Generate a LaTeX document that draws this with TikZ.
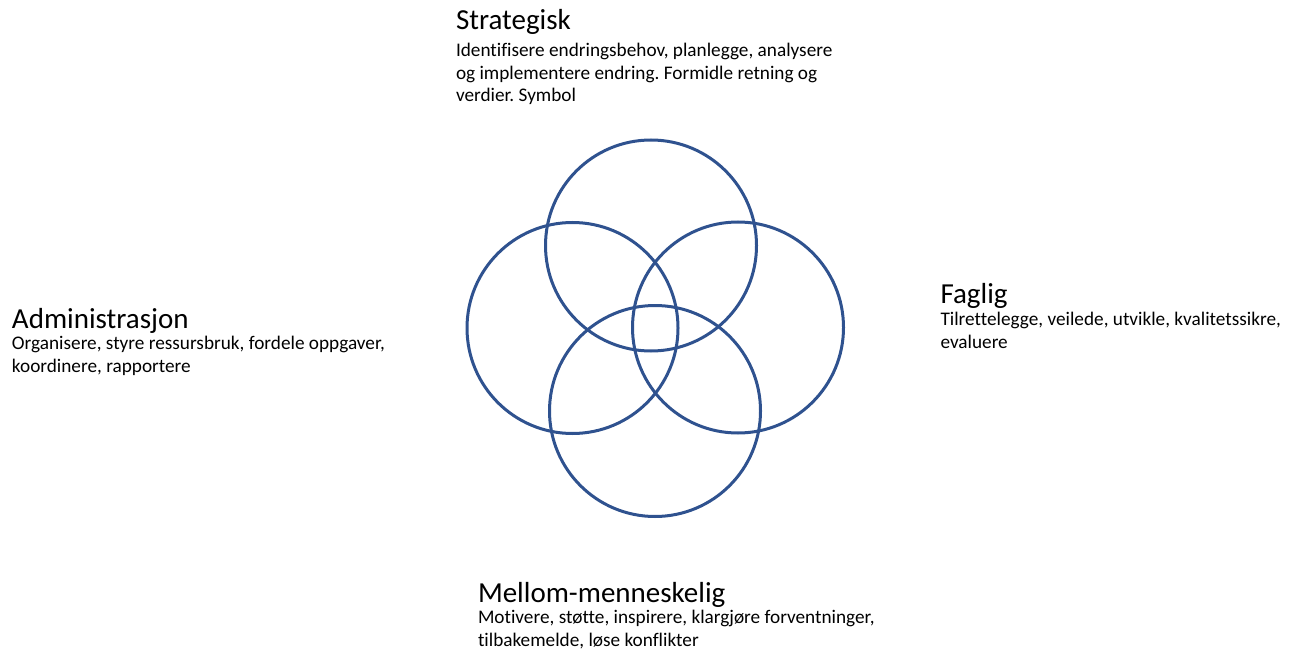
\documentclass[tikz,border=0pt]{standalone}
\usepackage{fontspec}
\setmainfont[Ligatures=NoCommon]{Carlito}
\frenchspacing
\definecolor{ringblue}{RGB}{47,82,143}
\tikzset{inner sep=0pt, outer sep=0pt}
\tikzset{
  ring/.style={circle, draw=ringblue, line width=3pt, minimum size=211pt},
  heading/.style={anchor=base west, font=\fontsize{29}{30}\selectfont},
  detail/.style={anchor=base west, align=left, font=\fontsize{19.25}{22.8}\selectfont}
}

\begin{document}
\begin{tikzpicture}[x=1pt, y=-1pt]
\useasboundingbox (0,0) rectangle (1297,652);
% the four rings
\node[ring] (strat) at (651,245.5) {};
\node[ring] (adm)   at (572.5,328) {};
\node[ring] (fag)   at (738,327.5) {};
\node[ring] (mm)    at (655,411) {};
% headings with their text (base of a text is its last line)
\node[heading] (strathead) at (456,30) {Strategisk};
\node[detail] (strattext) at ([yshift=-72pt]strathead.base west)
  {Identifisere endringsbehov, planlegge, analysere\\og implementere endring. Formidle retning og\\verdier. Symbol};
\node[heading] (admhead) at (12,328.5) {Administrasjon};
\node[detail] (admtext) at ([yshift=-43.8pt]admhead.base west)
  {Organisere, styre ressursbruk, fordele oppgaver,\\koordinere, rapportere};
\node[heading] (faghead) at (940.5,303.5) {Faglig};
\node[detail] (fagtext) at ([yshift=-44.5pt]faghead.base west)
  {Tilrettelegge, veilede, utvikle, kvalitetssikre,\\evaluere};
\node[heading] (mmhead) at (478,602.5) {Mellom-menneskelig};
\node[detail] (mmtext) at ([yshift=-43.8pt]mmhead.base west)
  {Motivere, støtte, inspirere, klargjøre forventninger,\\tilbakemelde, løse konflikter};
\end{tikzpicture}
\end{document}
